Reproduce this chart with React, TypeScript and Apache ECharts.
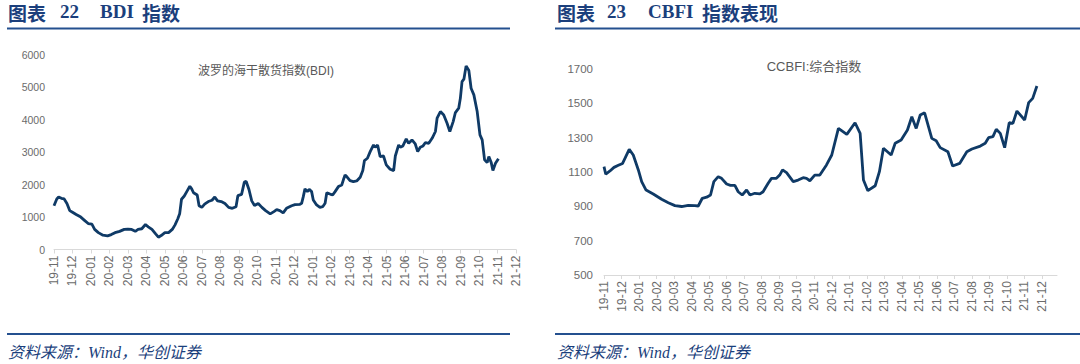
import React, { useEffect, useRef } from "react";
import * as echarts from "echarts";

const monthLabels = ["19-11","19-12","20-01","20-02","20-03","20-04","20-05","20-06","20-07","20-08","20-09","20-10","20-11","20-12","21-01","21-02","21-03","21-04","21-05","21-06","21-07","21-08","21-09","21-10","21-11","21-12"];

// position in months from 19-11 tick
const bdiMonth = [0,0.15,0.25,0.4,0.55,0.7,0.85,1,1.2,1.45,1.65,1.85,2.05,2.2,2.4,2.65,2.9,3.1,3.3,3.55,3.8,4,4.2,4.4,4.55,4.75,4.95,5.1,5.3,5.5,5.65,5.8,6,6.2,6.4,6.55,6.7,6.8,6.9,7.05,7.2,7.35,7.45,7.55,7.75,7.85,8,8.15,8.35,8.55,8.7,8.85,9.05,9.25,9.45,9.65,9.85,9.95,10.15,10.3,10.4,10.55,10.7,10.85,11.05,11.25,11.45,11.7,11.9,12.05,12.22,12.4,12.58,12.86,13.04,13.31,13.4,13.49,13.58,13.71,13.81,13.94,14.03,14.21,14.39,14.54,14.67,14.76,14.94,15.08,15.21,15.39,15.57,15.66,15.75,15.84,16.02,16.2,16.38,16.57,16.71,16.8,16.96,17.11,17.29,17.38,17.51,17.65,17.83,17.98,18.19,18.38,18.47,18.65,18.74,18.88,19.06,19.19,19.37,19.55,19.68,19.82,19.97,20.1,20.28,20.46,20.64,20.73,20.91,21.09,21.27,21.42,21.6,21.72,21.9,21.99,22.08,22.18,22.3,22.45,22.57,22.72,22.9,23.05,23.17,23.3,23.44,23.53,23.66,23.75,23.89,24.05];
const bdiValue = [1350,1560,1620,1580,1560,1420,1200,1150,1080,1000,900,800,780,620,520,440,420,460,520,560,620,630,620,560,620,640,770,700,620,480,380,430,520,520,620,760,950,1100,1550,1650,1800,1950,1870,1750,1680,1350,1300,1400,1480,1520,1620,1500,1480,1420,1300,1270,1320,1660,1700,2080,2100,1850,1500,1360,1420,1300,1200,1100,1170,1230,1200,1130,1270,1350,1385,1395,1425,1630,1870,1785,1855,1785,1530,1375,1300,1320,1425,1750,1710,1680,1785,1940,1990,2150,2300,2250,2125,2095,2115,2230,2435,2745,2815,3020,3225,3155,3225,2865,2885,2610,2475,2435,2885,3225,3155,3195,3410,3275,3380,3255,3020,3155,3195,3300,3275,3430,3640,4050,4255,4150,3895,3640,3945,4225,4360,4670,5180,5255,5665,5520,4975,4770,4255,3535,3380,2765,2680,2865,2680,2435,2660,2800];

const ccbfiMonth = [0,0.1,0.34,0.57,0.82,1.06,1.44,1.67,1.96,2.15,2.4,2.81,3.29,3.67,4.05,4.43,4.81,5.19,5.38,5.61,5.86,6.08,6.27,6.52,6.71,7,7.22,7.47,7.66,7.89,8.14,8.33,8.61,8.9,9.08,9.37,9.56,9.84,10.03,10.19,10.42,10.8,11.08,11.37,11.56,11.75,12.03,12.32,12.7,13,13.38,13.86,14.33,14.62,14.81,15.06,15.48,15.72,15.95,16.39,16.62,16.96,17.32,17.57,17.82,18.05,18.3,18.71,18.96,19.19,19.63,19.9,20.3,20.71,21,21.48,21.76,21.95,22.2,22.39,22.62,22.87,23.13,23.34,23.57,24.01,24.24,24.47,24.71];
const ccbfiValue = [1131,1087,1106,1127,1139,1150,1232,1199,1112,1044,995,972,941,921,904,899,906,904,902,947,953,966,1044,1073,1063,1030,1022,1022,985,966,995,966,976,972,985,1034,1063,1063,1082,1112,1096,1044,1053,1067,1063,1049,1082,1082,1141,1199,1354,1319,1387,1325,1053,991,1020,1102,1238,1199,1267,1286,1345,1422,1354,1432,1445,1296,1282,1242,1218,1135,1150,1218,1234,1251,1267,1300,1306,1349,1325,1242,1387,1383,1455,1403,1504,1529,1601];

const bdiTicks = [0, 1000, 2000, 3000, 4000, 5000, 6000];
const ccbfiTicks = [500, 700, 900, 1100, 1300, 1500, 1700];

const LINE = "#0f3a66";
const BLUE = "#1b3f7c";
const RULE = "#24508f";
const LABEL = "#6b6b6b";
const FONT = "'Liberation Sans', Arial, 'Noto Sans CJK SC', sans-serif";

const pairs = (xs: number[], ys: number[]) => xs.map((x, i) => [x, ys[i]]);
const monthIdx = monthLabels.map((_, i) => i);

function xAxisFor(gridIndex: number, max: number) {
  return {
    type: "value",
    gridIndex,
    min: 0,
    max,
    interval: 1,
    axisLine: { show: true, lineStyle: { color: "#d9d9d9", width: 1 } },
    axisTick: { show: true, length: 4, lineStyle: { color: "#d9d9d9" }, customValues: monthIdx },
    splitLine: { show: false },
    axisLabel: {
      customValues: monthIdx,
      rotate: 90,
      margin: 6,
      color: LABEL,
      fontSize: 12,
      fontFamily: FONT,
      formatter: (v: number) => (Number.isInteger(v) && monthLabels[v]) || "",
    },
  };
}

function yAxisFor(gridIndex: number, ticks: number[], size: number, margin: number) {
  return {
    type: "value",
    gridIndex,
    min: ticks[0],
    max: ticks[ticks.length - 1],
    interval: ticks[1] - ticks[0],
    axisLine: { show: false },
    axisTick: { show: false },
    splitLine: { show: false },
    axisLabel: {
      color: LABEL,
      fontSize: size,
      fontFamily: FONT,
      margin,
      formatter: (v: number) => String(v),
    },
  };
}

function headerTexts(x0: number, num: string, latin: string, cjk: string, latinX: number, numX: number, cjkX: number) {
  const base = { fill: BLUE, fontWeight: "bold", fontSize: 19, verticalAlign: "middle" };
  return [
    { type: "text", left: x0, top: 3, style: { ...base, text: "图表", fontFamily: "'Noto Sans CJK SC'" } },
    { type: "text", left: numX, top: 2, style: { ...base, text: num, fontFamily: "'Liberation Serif', serif" } },
    { type: "text", left: latinX, top: 2, style: { ...base, text: latin, fontFamily: "'Liberation Serif', serif" } },
    { type: "text", left: cjkX, top: 3, style: { ...base, text: cjk, fontFamily: "'Noto Sans CJK SC'" } },
  ];
}

export default function App() {
  const ref = useRef<HTMLDivElement>(null);
  useEffect(() => {
    document.body.style.margin = "0";
    const chart = echarts.init(ref.current!, null, { renderer: "svg" });
    chart.setOption({
      animation: false,
      backgroundColor: "#ffffff",
      grid: [
        { left: 54, top: 55, width: 462, height: 194.5, outerBoundsMode: "none" },
        { left: 604, top: 69, width: 453, height: 206, outerBoundsMode: "none" },
      ],
      xAxis: [xAxisFor(0, 25), xAxisFor(1, 25.857)],
      yAxis: [yAxisFor(0, bdiTicks, 10.5, 9), yAxisFor(1, ccbfiTicks, 11.5, 11)],
      series: [
        {
          type: "line",
          name: "BDI",
          xAxisIndex: 0,
          yAxisIndex: 0,
          data: pairs(bdiMonth, bdiValue),
          showSymbol: false,
          lineStyle: { color: LINE, width: 2.8 },
          itemStyle: { color: LINE },
        },
        {
          type: "line",
          name: "CCBFI",
          xAxisIndex: 1,
          yAxisIndex: 1,
          data: pairs(ccbfiMonth, ccbfiValue),
          showSymbol: false,
          lineStyle: { color: LINE, width: 2.8 },
          itemStyle: { color: LINE },
        },
      ],
      graphic: [
        ...headerTexts(8, "22", "BDI", "指数", 100, 60, 142),
        ...headerTexts(557, "23", "CBFI", "指数表现", 648, 607, 702),
        { type: "rect", shape: { x: 7, y: 27.5, width: 503, height: 2 }, style: { fill: RULE } },
        { type: "rect", shape: { x: 555, y: 27.5, width: 525, height: 2 }, style: { fill: RULE } },
        { type: "rect", shape: { x: 7, y: 333, width: 503, height: 2 }, style: { fill: RULE } },
        { type: "rect", shape: { x: 555, y: 333, width: 525, height: 2 }, style: { fill: RULE } },
        {
          type: "text", x: 266, y: 71,
          style: { text: "波罗的海干散货指数(BDI)", fill: "#595959", fontSize: 12, fontFamily: FONT, align: "center", verticalAlign: "middle" },
        },
        {
          type: "text", x: 814, y: 66,
          style: { text: "CCBFI:综合指数", fill: "#595959", fontSize: 13, fontFamily: FONT, align: "center", verticalAlign: "middle" },
        },
        {
          type: "text", x: 8, y: 352,
          style: { text: "资料来源：Wind，华创证券", fill: BLUE, fontSize: 16, fontStyle: "italic", fontFamily: "'Liberation Serif', 'Noto Sans CJK SC', serif", verticalAlign: "middle" },
        },
        {
          type: "text", x: 557, y: 352,
          style: { text: "资料来源：Wind，华创证券", fill: BLUE, fontSize: 16, fontStyle: "italic", fontFamily: "'Liberation Serif', 'Noto Sans CJK SC', serif", verticalAlign: "middle" },
        },
      ],
    });
    return () => chart.dispose();
  }, []);
  return <div ref={ref} style={{ width: 1080, height: 364, overflow: "hidden" }} />;
}
